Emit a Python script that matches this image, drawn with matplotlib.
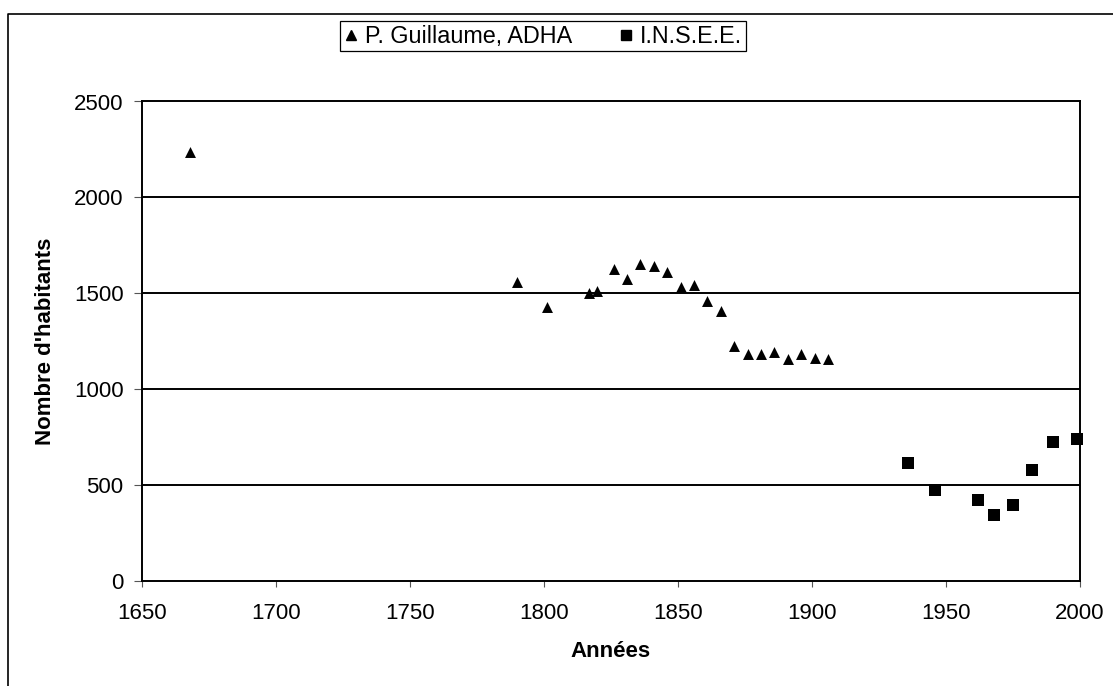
import matplotlib
matplotlib.use('Agg')
import matplotlib.pyplot as plt
from matplotlib.lines import Line2D

plt.rcParams['font.family'] = ['Liberation Sans', 'DejaVu Sans']
plt.rcParams['font.size'] = 16

# population counts, parish registers / ADHA
guillaume_years = [1668, 1790, 1801, 1817, 1820, 1826, 1831, 1836, 1841, 1846, 1851,
                   1856, 1861, 1866, 1871, 1876, 1881, 1886, 1891, 1896, 1901, 1906]
guillaume_pop = [2235, 1559, 1429, 1504, 1514, 1629, 1573, 1653, 1641, 1613, 1533,
                 1543, 1462, 1406, 1226, 1181, 1186, 1193, 1158, 1181, 1163, 1156]

# official census
insee_years = [1936, 1946, 1962, 1968, 1975, 1982, 1990, 1999]
insee_pop = [615, 474, 423, 344, 396, 580, 724, 741]

x_ticks = [1650, 1700, 1750, 1800, 1850, 1900, 1950, 2000]
y_ticks = [0, 500, 1000, 1500, 2000, 2500]

W, H = 1113, 686
fig = plt.figure(figsize=(W / 100, H / 100), dpi=100)
ax = fig.add_axes([141.7 / W, 1 - 581 / H, (1080 - 141.7) / W, (581 - 101.5) / H])

ax.scatter(guillaume_years, guillaume_pop, marker='^', s=62, color='black',
           linewidths=0, label='P. Guillaume, ADHA', zorder=3, clip_on=False)
ax.scatter(insee_years, insee_pop, marker='s', s=70, color='black',
           linewidths=0, label='I.N.S.E.E.', zorder=3, clip_on=False)

ax.set_xlim(1650, 2000)
ax.set_ylim(0, 2500)
ax.set_xticks(x_ticks)
ax.set_yticks(y_ticks)

for y in y_ticks[1:-1]:
    ax.axhline(y, color='black', lw=1.4, zorder=1)

for s in ax.spines.values():
    s.set_linewidth(1.4)
    s.set_color('black')

ax.tick_params(axis='y', direction='out', length=6, width=0.8, color='#555555', pad=7)
ax.tick_params(axis='x', direction='out', length=4, width=0.8, color='#555555', pad=12)

ax.set_xlabel('Années', fontweight='bold')
ax.set_ylabel("Nombre d'habitants", fontweight='bold')
ax.xaxis.set_label_coords(0.5, (581 - 651.7) / (581 - 101.5))
ax.xaxis.label.set_va('center')
ax.yaxis.set_label_coords((46 - 141.7) / (1080 - 141.7), 0.5)
ax.yaxis.label.set_va('center')

handles = [
    Line2D([], [], marker='^', color='black', ls='none', markersize=7),
    Line2D([], [], marker='s', color='black', ls='none', markersize=7),
]
leg = fig.legend(handles, ['P. Guillaume, ADHA', 'I.N.S.E.E.'], loc='center',
                 bbox_to_anchor=(543 / W, 1 - 36.4 / H), ncol=2, fancybox=False,
                 edgecolor='black', framealpha=1, borderpad=0.15, handlelength=0.6,
                 handletextpad=0.3, columnspacing=2.0, borderaxespad=0,
                 prop={'size': 16.8})
leg.get_frame().set_linewidth(0.9)

# chart area border (top and left edges)
fig.add_artist(Line2D([8 / W, 8 / W, 1.0], [0.0, 1 - 13.5 / H, 1 - 13.5 / H],
                      transform=fig.transFigure, color='black', lw=1.2))

fig.savefig('out.png', dpi=100)
